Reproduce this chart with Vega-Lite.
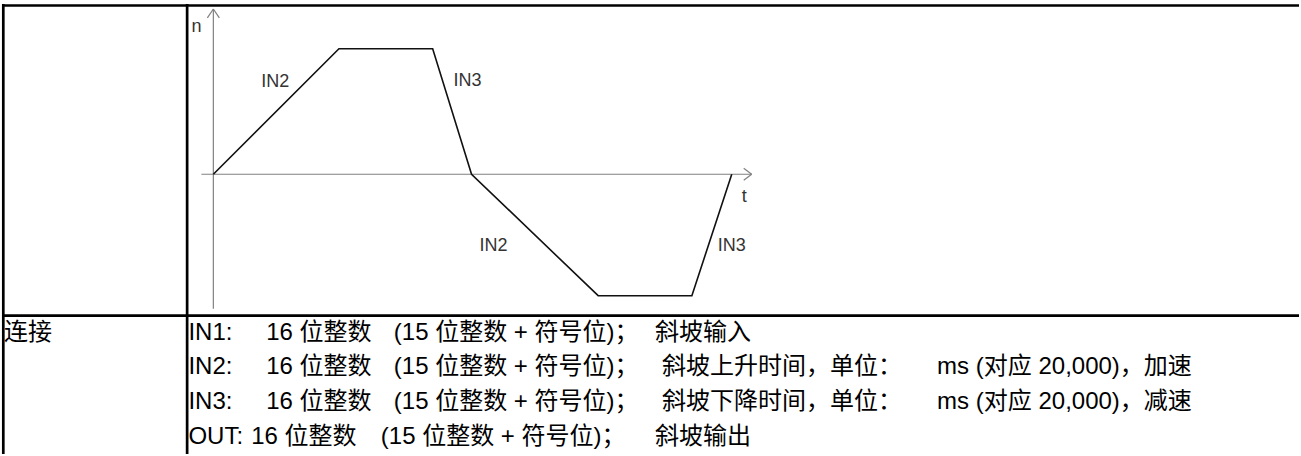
{
  "$schema": "https://vega.github.io/schema/vega-lite/v6.json",
  "width": 1301,
  "height": 456,
  "padding": 0,
  "autosize": {"type": "fit", "contains": "padding"},
  "background": "white",
  "config": {"view": {"stroke": null}},
  "datasets": {
    "curve": [
      {"t": 0, "n": 0},
      {"t": 126, "n": 126},
      {"t": 220, "n": 126},
      {"t": 259, "n": 0},
      {"t": 386, "n": -122},
      {"t": 480, "n": -122},
      {"t": 520, "n": 0}
    ],
    "axes": [
      {"t": -12, "n": 0, "t2": 540, "n2": 0},
      {"t": 532, "n": 6, "t2": 540, "n2": 0},
      {"t": 532, "n": -6, "t2": 540, "n2": 0},
      {"t": 0, "n": -135, "t2": 0, "n2": 166},
      {"t": -6, "n": 157, "t2": 0, "n2": 166},
      {"t": 6, "n": 157, "t2": 0, "n2": 166}
    ],
    "grid": [
      {"t": -212, "n": 169.5, "t2": 1089, "n2": 169.5},
      {"t": -210.7, "n": 171, "t2": -210.7, "n2": -281},
      {"t": -26.3, "n": 171, "t2": -26.3, "n2": -281},
      {"t": -212, "n": -142, "t2": 1089, "n2": -142}
    ],
    "labels": [
      {"t": -22, "n": 143, "label": "n"},
      {"t": 48, "n": 88, "label": "IN2"},
      {"t": 241, "n": 89, "label": "IN3"},
      {"t": 267, "n": -77, "label": "IN2"},
      {"t": 506, "n": -77, "label": "IN3"},
      {"t": 530, "n": -28, "label": "t"}
    ],
    "cells": [
      {"t": -210, "n": -166, "label": "连接"},
      {"t": -25, "n": -166, "label": "IN1:"},
      {"t": 53, "n": -166, "label": "16 位整数"},
      {"t": 181, "n": -166, "label": "(15 位整数 + 符号位)；"},
      {"t": 443, "n": -166, "label": "斜坡输入"},
      {"t": -25, "n": -201, "label": "IN2:"},
      {"t": 53, "n": -201, "label": "16 位整数"},
      {"t": 181, "n": -201, "label": "(15 位整数 + 符号位)；"},
      {"t": 450, "n": -201, "label": "斜坡上升时间，单位："},
      {"t": 726, "n": -201, "label": "ms (对应 20,000)，加速"},
      {"t": -25, "n": -236, "label": "IN3:"},
      {"t": 53, "n": -236, "label": "16 位整数"},
      {"t": 181, "n": -236, "label": "(15 位整数 + 符号位)；"},
      {"t": 450, "n": -236, "label": "斜坡下降时间，单位："},
      {"t": 726, "n": -236, "label": "ms (对应 20,000)，减速"},
      {"t": -25, "n": -271, "label": "OUT:"},
      {"t": 38, "n": -271, "label": "16 位整数"},
      {"t": 168, "n": -271, "label": "(15 位整数 + 符号位)；"},
      {"t": 443, "n": -271, "label": "斜坡输出"}
    ]
  },
  "encoding": {
    "x": {"field": "t", "type": "quantitative", "axis": null, "scale": {"domain": [-212, 1089], "nice": false, "zero": false}},
    "y": {"field": "n", "type": "quantitative", "axis": null, "scale": {"domain": [-281, 175], "nice": false, "zero": false}}
  },
  "layer": [
    {
      "data": {"name": "axes"},
      "mark": {"type": "rule", "color": "#808080", "strokeWidth": 1.2},
      "encoding": {"x2": {"field": "t2"}, "y2": {"field": "n2"}}
    },
    {
      "data": {"name": "grid"},
      "mark": {"type": "rule", "color": "#000000", "strokeWidth": 2.7},
      "encoding": {"x2": {"field": "t2"}, "y2": {"field": "n2"}}
    },
    {
      "data": {"name": "curve"},
      "mark": {"type": "line", "color": "#111111", "strokeWidth": 1.6, "strokeJoin": "miter"},
      "encoding": {}
    },
    {
      "data": {"name": "labels"},
      "mark": {"type": "text", "align": "left", "baseline": "alphabetic", "font": "Liberation Sans", "fontSize": 18, "color": "#333333"},
      "encoding": {"text": {"field": "label"}}
    },
    {
      "data": {"name": "cells"},
      "mark": {"type": "text", "align": "left", "baseline": "alphabetic", "font": "Liberation Sans, Noto Sans CJK SC", "fontSize": 24, "color": "#000000"},
      "encoding": {"text": {"field": "label"}}
    }
  ]
}
